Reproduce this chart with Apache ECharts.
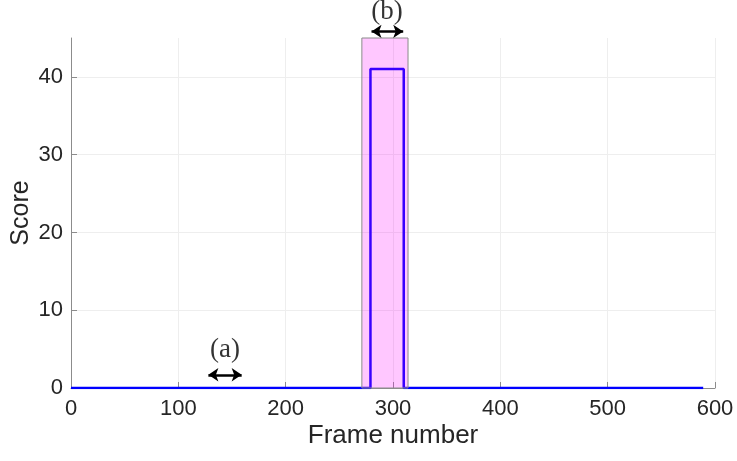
<!DOCTYPE html>
<html>
<head>
<meta charset="utf-8">
<script src="https://cdn.jsdelivr.net/npm/echarts@6/dist/echarts.min.js"></script>
<style>
  html, body { margin: 0; padding: 0; background: #fff; }
  #chart { width: 737px; height: 461px; }
</style>
</head>
<body>
<div id="chart"></div>
<script>
// step score over frames
var frames = [0, 279, 279, 310, 310, 589];
var scores = [0, 0, 41, 41, 0, 0];
var xTicks = [0, 100, 200, 300, 400, 500, 600];
var yTicks = [0, 10, 20, 30, 40];
// highlighted span (pink patch): x range, y range
var spanX = [271, 314];
var spanY = [0, 45];
// annotation arrows: x from, x to, y
var arrowA = [128, 159, 1.7];
var arrowB = [280, 309.5, 45.85];
// annotation texts and their centres
var labels = ['(a)', '(b)'];
var labelX = [143.5, 294.5];
var labelY = [4.9, 48.4];

var lineData = frames.map(function (f, i) { return [f, scores[i]]; });
var fontMain = 'Liberation Sans';

var myChart = echarts.init(document.getElementById('chart'));
var option = {
  animation: false,
  grid: { left: 71, right: 22, top: 38, bottom: 73, containLabel: false, outerBoundsMode: 'none' },
  xAxis: {
    type: 'value',
    min: xTicks[0], max: xTicks[xTicks.length - 1], interval: 100,
    name: 'Frame number', nameLocation: 'middle', nameGap: 35, nameMoveOverlap: false,
    nameTextStyle: { fontSize: 26, color: '#262626', fontFamily: fontMain },
    axisLine: { show: true, onZero: false, lineStyle: { color: '#8c8c8c', width: 1 } },
    axisTick: { show: true, inside: true, length: 6, lineStyle: { color: '#8c8c8c' } },
    axisLabel: { fontSize: 22, color: '#262626', fontFamily: fontMain, margin: 10 },
    splitLine: { show: true, lineStyle: { color: '#eeeeee' } }
  },
  yAxis: {
    type: 'value',
    min: yTicks[0], max: 45, interval: 10,
    name: 'Score', nameLocation: 'middle', nameGap: 37, nameMoveOverlap: false,
    nameTextStyle: { fontSize: 25, color: '#262626', fontFamily: fontMain },
    axisLine: { show: true, lineStyle: { color: '#8c8c8c', width: 1 } },
    axisTick: { show: true, inside: true, length: 6, customValues: yTicks, lineStyle: { color: '#8c8c8c' } },
    axisLabel: { fontSize: 22, color: '#262626', fontFamily: fontMain, margin: 8, customValues: yTicks },
    splitLine: { show: true, lineStyle: { color: '#eeeeee' } }
  },
  series: [
    {
      type: 'line',
      data: lineData,
      symbol: 'none',
      lineStyle: { color: '#0000ff', width: 2.5 },
      z: 2
    },
    {
      type: 'custom',
      z: 3,
      silent: true,
      data: [[spanX[0], spanY[0], spanX[1], spanY[1]]],
      renderItem: function (params, api) {
        var p0 = api.coord([api.value(0), api.value(3)]);
        var p1 = api.coord([api.value(2), api.value(1)]);
        return {
          type: 'rect',
          shape: { x: p0[0], y: p0[1], width: p1[0] - p0[0], height: p1[1] - p0[1] },
          style: { fill: 'rgba(255,0,255,0.22)', stroke: '#8a8a8a', lineWidth: 1 }
        };
      }
    },
    {
      type: 'lines',
      coordinateSystem: 'cartesian2d',
      clip: false,
      symbol: ['arrow', 'arrow'],
      symbolSize: 10,
      lineStyle: { color: '#000', width: 2.5, opacity: 1 },
      data: [
        { coords: [[arrowA[0], arrowA[2]], [arrowA[1], arrowA[2]]] },
        { coords: [[arrowB[0], arrowB[2]], [arrowB[1], arrowB[2]]] }
      ],
      z: 5
    },
    {
      type: 'scatter',
      clip: false,
      symbolSize: 1,
      itemStyle: { color: 'rgba(0,0,0,0)' },
      data: labels.map(function (t, i) { return { value: [labelX[i], labelY[i]], name: t }; }),
      label: {
        show: true, position: 'inside',
        formatter: '{b}', fontSize: 27, color: '#000', fontFamily: 'Liberation Serif'
      },
      z: 5
    }
  ]
};
myChart.setOption(option);
</script>
</body>
</html>
